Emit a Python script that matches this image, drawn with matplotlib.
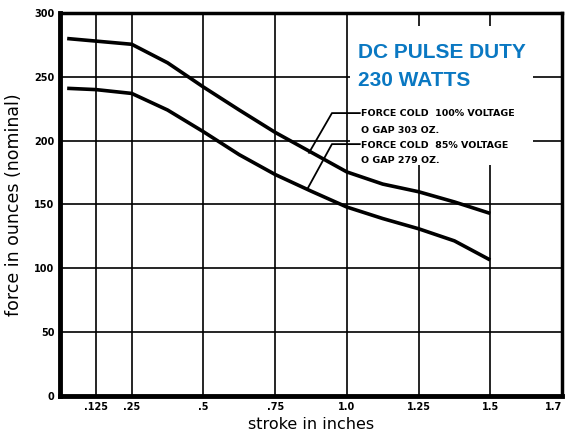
import matplotlib
matplotlib.use('Agg')
from matplotlib import pyplot as plt
from matplotlib.patches import Rectangle

# stroke (inches) and force (ounces)
stroke = [0.025, 0.125, 0.25, 0.375, 0.5, 0.625, 0.75, 0.875, 1.0, 1.125, 1.25, 1.375, 1.5]
force_100 = [280, 278, 275.5, 261, 242, 224, 206.5, 191, 175.5, 166, 160, 152, 143]
force_85 = [241, 240, 237, 224, 207, 189, 173.5, 160.5, 148, 139, 131, 121.5, 106.5]

x_ticks = [0.125, 0.25, 0.5, 0.75, 1.0, 1.25, 1.5, 1.75]
x_labels = ['.125', '.25', '.5', '.75', '1.0', '1.25', '1.5', '1.7']
y_ticks = [0, 50, 100, 150, 200, 250, 300]

label_100 = ['FORCE COLD  100% VOLTAGE', 'O GAP 303 OZ.']
label_85 = ['FORCE COLD  85% VOLTAGE', 'O GAP 279 OZ.']
title_lines = ['DC PULSE DUTY', '230 WATTS']

fig = plt.figure(figsize=(5.67, 4.34), dpi=100)
ax = fig.add_axes([60 / 567, 38 / 434, 502 / 567, 383 / 434])

ax.set_xlim(0, 1.75)
ax.set_ylim(0, 300)

ax.set_axisbelow(True)
ax.grid(True, color='black', linewidth=1.2)
ax.set_xticks(x_ticks)
ax.set_xticklabels(x_labels)
ax.set_yticks(y_ticks)
ax.set_yticklabels([str(v) for v in y_ticks])
ax.tick_params(length=0, labelsize=7, pad=4)
for lab in ax.get_xticklabels() + ax.get_yticklabels():
    lab.set_fontweight('bold')
# last label sits against the right edge, as on the scan
ax.get_xticklabels()[-1].set_horizontalalignment('right')

for side, lw in [('left', 3.5), ('bottom', 3.5), ('top', 2.5), ('right', 2.5)]:
    ax.spines[side].set_linewidth(lw)
    ax.spines[side].set_color('black')

# white area where the notes sit (hides grid)
ax.add_patch(Rectangle((1.01, 181), 0.64, 109, facecolor='white', edgecolor='none', zorder=1))

ax.plot(stroke, force_100, color='black', linewidth=2.6, zorder=3,
        solid_capstyle='butt', solid_joinstyle='round')
ax.plot(stroke, force_85, color='black', linewidth=2.6, zorder=3,
        solid_capstyle='butt', solid_joinstyle='round')

# leader lines
ax.plot([1.045, 0.948, 0.868], [221.6, 221.6, 190.5], color='black', linewidth=1.3, zorder=3)
ax.plot([1.045, 0.948, 0.862], [197.3, 197.3, 162], color='black', linewidth=1.3, zorder=3)

ax.text(1.049, 221.6, label_100[0], fontsize=6.8, fontweight='bold', va='center', ha='left', zorder=4)
ax.text(1.049, 208.3, label_100[1], fontsize=6.8, fontweight='bold', va='center', ha='left', zorder=4)
ax.text(1.049, 196.6, label_85[0], fontsize=6.8, fontweight='bold', va='center', ha='left', zorder=4)
ax.text(1.049, 184.8, label_85[1], fontsize=6.8, fontweight='bold', va='center', ha='left', zorder=4)

ax.text(1.04, 269, title_lines[0], fontsize=15, fontweight='bold', color='#0a78c2',
        family='Liberation Sans', va='center', ha='left', zorder=4)
ax.text(1.04, 247, title_lines[1], fontsize=15, fontweight='bold', color='#0a78c2',
        family='Liberation Sans', va='center', ha='left', zorder=4)

ax.set_xlabel('stroke in inches', fontsize=11.5, labelpad=4)
ax.set_ylabel('force in ounces (nominal)', fontsize=12.5, labelpad=8)

fig.savefig('out.png', dpi=100, facecolor='white')
